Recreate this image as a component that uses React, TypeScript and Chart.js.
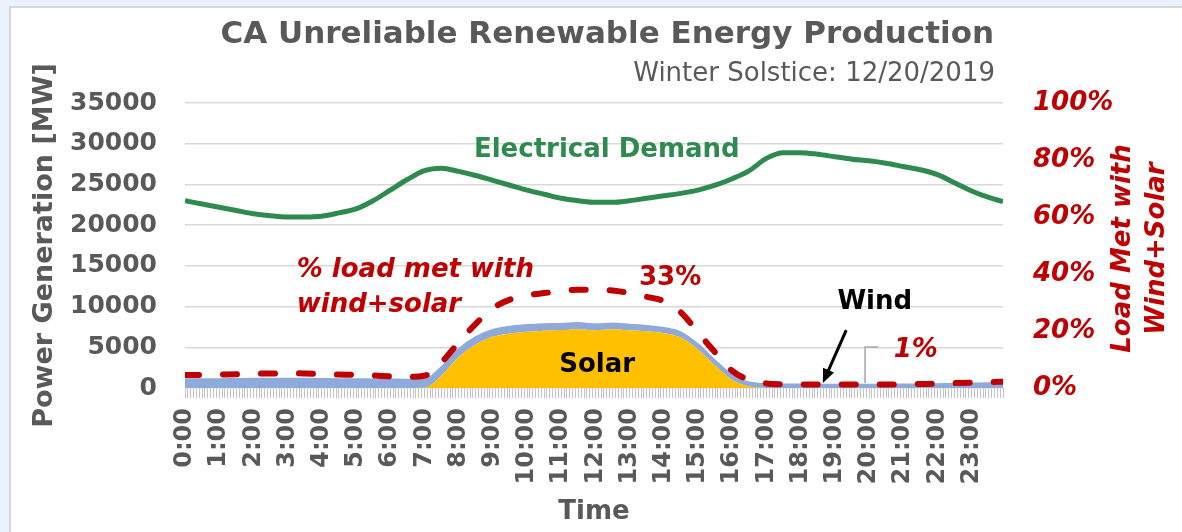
import React, { useEffect, useRef } from "react";
import { Chart, registerables } from "chart.js";

Chart.register(...registerables);

// ---- data ----
const TIME_MINUTES = [
  0, 30, 60, 90, 120, 150, 180, 210, 240, 270, 300, 330, 360, 390, 420, 450,
  480, 510, 540, 570, 600, 630, 660, 690, 720, 750, 780, 810, 840, 870, 900,
  930, 960, 990, 1020, 1050, 1080, 1110, 1140, 1170, 1200, 1230, 1260, 1290,
  1320, 1350, 1380, 1410, 1435,
];

const DEMAND_MW = [
  23000, 22600, 22200, 21800, 21400, 21150, 21000, 21000, 21100, 21500, 22000,
  23000, 24300, 25600, 26700, 27000, 26600, 26100, 25500, 24900, 24300, 23800,
  23300, 23000, 22800, 22800, 23000, 23300, 23600, 23900, 24300, 24900, 25700,
  26700, 28200, 28900, 28900, 28700, 28400, 28100, 27900, 27600, 27200, 26800,
  26200, 25200, 24200, 23400, 22900,
];

const SOLAR_MW = [
  0, 0, 0, 0, 0, 0, 0, 0, 0, 0, 0, 0, 0, 0,
  20, 1550, 3800, 5340, 6280, 6700, 6920, 7040, 7110, 7230, 7100, 7220, 7090,
  6960, 6730, 6200, 4720, 2750, 980, 170, 0,
  0, 0, 0, 0, 0, 0, 0, 0, 0, 0, 0, 0, 0, 0,
];

const WIND_MW = [
  950, 950, 960, 980, 1000, 1010, 1020, 1000, 980, 960, 950, 930, 920, 900,
  880, 850, 800, 760, 720, 700, 680, 660, 640, 620, 600, 580, 560, 540, 520,
  500, 480, 450, 420, 380, 340,
  320, 300, 290, 280, 280, 280, 290, 300, 320, 350, 380, 420, 460, 480,
];

const LOAD_MET_PCT = [
  4.6, 4.6, 4.7, 4.8, 5.0, 5.1, 5.2, 5.1, 4.9, 4.7, 4.6, 4.4, 4.1, 3.9,
  4.3, 9.0, 16.0, 22.5, 28.0, 31.0, 32.5, 33.3, 34.0, 34.5, 34.5, 34.2, 33.3,
  32.0, 30.5, 26.5, 19.5, 12.5, 6.0, 2.8, 1.6,
  1.3, 1.2, 1.2, 1.2, 1.2, 1.2, 1.2, 1.3, 1.4, 1.5, 1.7, 1.9, 2.1, 2.2,
];

const LEFT_TICK_MAX = 35000;
const LEFT_TICK_STEP = 5000;
const RIGHT_TICK_MAX = 100;
const RIGHT_TICK_STEP = 20;

const TITLE = "CA Unreliable Renewable Energy Production";
const SUBTITLE = "Winter Solstice: 12/20/2019";

// annotation anchors in data units (minutes, MW)
const TEXT_LABELS = [
  { text: "Electrical Demand", minute: 740, mw: 29230, color: "#2e8a4e", italic: false, align: "center" },
  { text: "% load met with", minute: 196, mw: 14490, color: "#c00000", italic: true, align: "left" },
  { text: "wind+solar", minute: 196, mw: 10190, color: "#c00000", italic: true, align: "left" },
  { text: "33%", minute: 851, mw: 13510, color: "#c00000", italic: false, align: "center" },
  { text: "Solar", minute: 723, mw: 2824, color: "#000000", italic: false, align: "center" },
  { text: "Wind", minute: 1210, mw: 10560, color: "#000000", italic: false, align: "center" },
  { text: "1%", minute: 1282, mw: 4666, color: "#c00000", italic: true, align: "center" },
];

const FONT = '"DejaVu Sans"';
const GRAY = "#595959";
const RED = "#c00000";
const GREEN = "#2e8a4e";

const toPoints = (vals: number[]) => TIME_MINUTES.map((m, i) => ({ x: m, y: vals[i] }));

const overlayPlugin = {
  id: "overlay",
  afterDraw(chart: any) {
    const { ctx, chartArea, scales } = chart;
    const xs = scales.x;
    const ys = scales.y;
    const px = (m: number) => xs.getPixelForValue(m);
    const py = (v: number) => ys.getPixelForValue(v);
    ctx.save();

    // title + subtitle
    ctx.fillStyle = GRAY;
    ctx.textAlign = "right";
    ctx.textBaseline = "alphabetic";
    ctx.font = `bold 31px ${FONT}`;
    ctx.fillText(TITLE, chartArea.right - 9, chartArea.top - 60);
    ctx.font = `26px ${FONT}`;
    ctx.fillText(SUBTITLE, chartArea.right - 8, chartArea.top - 22);

    // right axis title (reads bottom to top)
    ctx.save();
    const cy = (chartArea.top + chartArea.bottom) / 2 + 3;
    ctx.fillStyle = RED;
    ctx.font = `italic bold 26px ${FONT}`;
    ctx.textAlign = "center";
    ctx.textBaseline = "middle";
    ctx.translate(chartArea.right + 120, cy);
    ctx.rotate(-Math.PI / 2);
    ctx.fillText("Load Met with", 0, 0);
    ctx.fillText("Wind+Solar", 0, 34);
    ctx.restore();

    // text labels
    ctx.textBaseline = "middle";
    for (const l of TEXT_LABELS) {
      ctx.fillStyle = l.color;
      ctx.textAlign = l.align as CanvasTextAlign;
      ctx.font = `${l.italic ? "italic " : ""}bold 26px ${FONT}`;
      ctx.fillText(l.text, px(l.minute), py(l.mw));
    }

    // leader line for 1%
    ctx.strokeStyle = "#a6a6a6";
    ctx.lineWidth = 1.5;
    ctx.beginPath();
    ctx.moveTo(px(1193), py(614));
    ctx.lineTo(px(1193), py(5035));
    ctx.lineTo(px(1216), py(5035));
    ctx.stroke();

    // arrow pointing at wind
    const x1 = px(1160), y1 = py(7120), x2 = px(1119), y2 = py(614);
    const ang = Math.atan2(y2 - y1, x2 - x1);
    ctx.strokeStyle = "#000";
    ctx.fillStyle = "#000";
    ctx.lineWidth = 3;
    ctx.beginPath();
    ctx.moveTo(x1, y1);
    ctx.lineTo(x2 - 10 * Math.cos(ang), y2 - 10 * Math.sin(ang));
    ctx.stroke();
    ctx.beginPath();
    ctx.moveTo(x2, y2);
    ctx.lineTo(x2 - 14 * Math.cos(ang) + 6 * Math.sin(ang), y2 - 14 * Math.sin(ang) - 6 * Math.cos(ang));
    ctx.lineTo(x2 - 14 * Math.cos(ang) - 6 * Math.sin(ang), y2 - 14 * Math.sin(ang) + 6 * Math.cos(ang));
    ctx.closePath();
    ctx.fill();

    ctx.restore();
  },
};

export default function App() {
  const canvasRef = useRef<HTMLCanvasElement | null>(null);

  useEffect(() => {
    if (!canvasRef.current) return;
    const chart = new Chart(canvasRef.current, {
      type: "line",
      data: {
        datasets: [
          {
            label: "Electrical Demand",
            data: toPoints(DEMAND_MW),
            yAxisID: "y",
            stack: "demand",
            borderColor: GREEN,
            borderWidth: 5,
            pointRadius: 0,
            fill: false,
            tension: 0.4,
            cubicInterpolationMode: "monotone",
            order: 1,
          },
          {
            label: "Solar",
            data: toPoints(SOLAR_MW),
            yAxisID: "y",
            stack: "gen",
            borderColor: "rgba(0,0,0,0)",
            borderWidth: 0,
            backgroundColor: "#ffc000",
            pointRadius: 0,
            fill: "origin",
            tension: 0.3,
            cubicInterpolationMode: "monotone",
            order: 2,
          },
          {
            label: "Wind",
            data: toPoints(WIND_MW),
            yAxisID: "y",
            stack: "gen",
            borderColor: "#8eaadb",
            borderWidth: 4,
            backgroundColor: "#8eaadb",
            pointRadius: 0,
            fill: "-1",
            tension: 0.3,
            cubicInterpolationMode: "monotone",
            order: 3,
          },
          {
            label: "% load met",
            data: toPoints(LOAD_MET_PCT),
            yAxisID: "y1",
            borderColor: RED,
            borderWidth: 6,
            borderDash: [14, 24],
            borderCapStyle: "round",
            pointRadius: 0,
            fill: false,
            tension: 0.4,
            cubicInterpolationMode: "monotone",
            order: 0,
          },
        ],
      },
      options: {
        responsive: false,
        animation: false,
        layout: { padding: { top: 103, left: 0, right: 0, bottom: 0 } },
        plugins: {
          legend: { display: false },
          tooltip: { enabled: false },
          title: { display: false },
        },
        scales: {
          x: {
            type: "linear",
            min: 0,
            max: 1435,
            border: { display: false },
            grid: {
              drawOnChartArea: false,
              drawTicks: true,
              tickLength: 10,
              color: "#c4c4c4",
              lineWidth: 1,
            },
            ticks: {
              stepSize: 5,
              autoSkip: false,
              minRotation: 90,
              maxRotation: 90,
              padding: 10,
              color: GRAY,
              font: { family: FONT, size: 24, weight: "bold" },
              callback: (v: any) => (Number(v) % 60 === 0 ? `${Number(v) / 60}:00` : ""),
            },
            title: {
              display: true,
              text: "Time",
              color: GRAY,
              font: { family: FONT, size: 26, weight: "bold" },
              padding: { top: 0, bottom: 4 },
            },
            afterFit: (s: any) => {
              s.height = 144;
            },
          },
          y: {
            position: "left",
            stacked: true,
            min: 0,
            max: LEFT_TICK_MAX,
            border: { display: false },
            grid: { color: "#d9d9d9", lineWidth: 1.5, drawTicks: false },
            ticks: {
              stepSize: LEFT_TICK_STEP,
              padding: 28,
              color: GRAY,
              font: { family: FONT, size: 25, weight: "bold" },
              callback: (v: any) => String(v),
            },
            title: {
              display: true,
              text: "Power Generation [MW]",
              color: GRAY,
              font: { family: FONT, size: 27, weight: "bold" },
              padding: { top: 29, bottom: 0 },
            },
            afterFit: (s: any) => {
              s.width = 185;
            },
          },
          y1: {
            position: "right",
            min: 0,
            max: RIGHT_TICK_MAX,
            border: { display: false },
            grid: { drawOnChartArea: false, drawTicks: false },
            ticks: {
              stepSize: RIGHT_TICK_STEP,
              padding: 30,
              color: RED,
              font: { family: FONT, size: 26, weight: "bold", style: "italic" },
              callback: (v: any) => `${v}%`,
            },
            afterFit: (s: any) => {
              s.width = 179;
            },
          },
        },
      },
      plugins: [overlayPlugin],
    } as any);
    return () => chart.destroy();
  }, []);

  return (
    <div
      style={{
        position: "fixed",
        left: 0,
        top: 0,
        width: 1182,
        height: 532,
        background: "#eaf3fb",
        overflow: "hidden",
      }}
    >
      <div
        style={{
          position: "absolute",
          left: 9,
          top: 6,
          right: 0,
          bottom: 0,
          background: "#ffffff",
          borderLeft: "2px solid #d6d6d6",
          borderTop: "2px solid #d6d6d6",
        }}
      />
      <canvas
        ref={canvasRef}
        width={1182}
        height={532}
        style={{ position: "absolute", left: 0, top: 0 }}
      />
    </div>
  );
}
